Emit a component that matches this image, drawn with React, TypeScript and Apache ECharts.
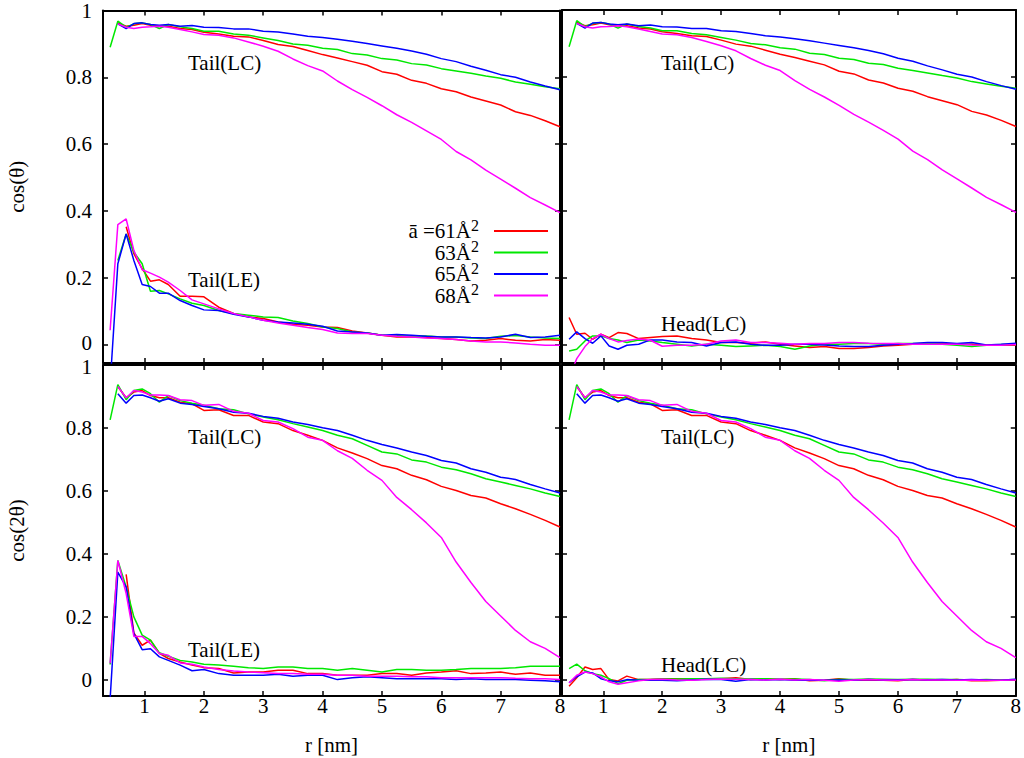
import React, { useEffect, useRef } from "react";
import * as echarts from "echarts";

// r [nm] sample positions
const R = [0.42, 0.55, 0.69, 0.82, 0.96, 1.1, 1.25, 1.4, 1.6, 1.8, 2.0, 2.25, 2.5, 2.75, 3.0, 3.25, 3.5, 3.75, 4.0, 4.25, 4.5, 4.75, 5.0, 5.25, 5.5, 5.75, 6.0, 6.25, 6.5, 6.75, 7.0, 7.25, 7.5, 7.75, 8.0];

const SERIES_NAMES = ["61", "63", "65", "68"];
const LEGEND_LABELS: Record<string, string> = { "61": "ā =61Å", "63": "63Å", "65": "65Å", "68": "68Å" };
const COLORS = ["#ff0000", "#00e800", "#0000ff", "#ff00ff"];
const X_TICKS = [1, 2, 3, 4, 5, 6, 7, 8];
const Y_TICKS = [0, 0.2, 0.4, 0.6, 0.8, 1];

// cos(theta), Tail(LC)
const LC1_61 = [null, 0.963, 0.953, 0.956, 0.961, 0.956, 0.953, 0.953, 0.946, 0.943, 0.935, 0.930, 0.923, 0.921, 0.910, 0.898, 0.892, 0.880, 0.868, 0.858, 0.847, 0.836, 0.817, 0.809, 0.791, 0.782, 0.766, 0.757, 0.741, 0.729, 0.717, 0.697, 0.686, 0.670, 0.652];
const LC1_63 = [0.89, 0.968, 0.950, 0.960, 0.963, 0.958, 0.946, 0.958, 0.951, 0.946, 0.938, 0.938, 0.930, 0.926, 0.918, 0.910, 0.900, 0.896, 0.887, 0.883, 0.871, 0.867, 0.856, 0.852, 0.841, 0.837, 0.826, 0.819, 0.812, 0.804, 0.797, 0.786, 0.779, 0.772, 0.766];
const LC1_65 = [null, 0.960, 0.946, 0.961, 0.963, 0.958, 0.956, 0.958, 0.953, 0.955, 0.950, 0.949, 0.945, 0.945, 0.938, 0.936, 0.930, 0.923, 0.919, 0.914, 0.908, 0.901, 0.894, 0.887, 0.879, 0.869, 0.856, 0.847, 0.833, 0.821, 0.808, 0.800, 0.786, 0.774, 0.763];
const LC1_68 = [null, 0.960, 0.950, 0.946, 0.950, 0.951, 0.953, 0.950, 0.943, 0.936, 0.928, 0.926, 0.918, 0.906, 0.893, 0.878, 0.855, 0.835, 0.819, 0.789, 0.763, 0.740, 0.715, 0.688, 0.665, 0.640, 0.614, 0.578, 0.553, 0.522, 0.495, 0.468, 0.440, 0.418, 0.395];

// cos(theta), Tail(LE)
const LE1_61 = [null, null, 0.353, 0.272, 0.227, 0.190, 0.194, 0.180, 0.145, 0.145, 0.143, 0.112, 0.093, 0.083, 0.078, 0.068, 0.061, 0.058, 0.053, 0.051, 0.041, 0.035, 0.028, 0.023, 0.023, 0.021, 0.018, 0.015, 0.011, 0.013, 0.018, 0.013, 0.011, 0.015, 0.013];
const LE1_63 = [null, 0.252, 0.331, 0.277, 0.242, 0.160, 0.162, 0.152, 0.137, 0.124, 0.117, 0.102, 0.093, 0.088, 0.083, 0.081, 0.071, 0.063, 0.053, 0.048, 0.038, 0.035, 0.028, 0.027, 0.025, 0.026, 0.023, 0.023, 0.020, 0.018, 0.025, 0.027, 0.023, 0.020, 0.018];
const LE1_65 = [-0.12, 0.242, 0.331, 0.252, 0.180, 0.174, 0.154, 0.154, 0.132, 0.117, 0.104, 0.102, 0.091, 0.083, 0.073, 0.068, 0.065, 0.061, 0.055, 0.041, 0.038, 0.035, 0.028, 0.030, 0.028, 0.025, 0.023, 0.023, 0.021, 0.020, 0.023, 0.031, 0.021, 0.023, 0.028];
const LE1_68 = [0.043, 0.359, 0.376, 0.282, 0.224, 0.214, 0.202, 0.187, 0.162, 0.134, 0.122, 0.107, 0.093, 0.083, 0.073, 0.065, 0.058, 0.051, 0.045, 0.035, 0.033, 0.033, 0.028, 0.025, 0.023, 0.020, 0.018, 0.015, 0.011, 0.008, 0.008, 0.005, 0.001, -0.002, -0.002];

// cos(theta), Head(LC)
const HD1_61 = [0.081, 0.031, 0.034, 0.016, 0.031, 0.021, 0.036, 0.033, 0.018, 0.021, 0.024, 0.026, 0.018, 0.014, 0.006, 0.006, 0.004, 0.008, 0.001, -0.004, -0.009, -0.006, -0.012, -0.012, -0.009, -0.004, -0.002, 0.001, 0.001, 0.003, 0.001, 0.001, -0.001, -0.002, -0.002];
const HD1_63 = [-0.019, -0.014, 0.011, 0.026, 0.026, 0.018, 0.014, 0.006, 0.014, 0.011, 0.006, 0.001, -0.004, 0.001, -0.002, -0.006, -0.004, -0.002, -0.006, -0.014, -0.004, 0.001, 0.001, 0.003, 0.003, 0.001, 0.003, 0.003, 0.003, 0.001, -0.002, -0.006, -0.002, 0.000, 0.000];
const HD1_65 = [0.016, 0.038, 0.018, 0.004, 0.026, -0.004, -0.014, -0.002, 0.001, 0.014, 0.014, 0.008, 0.006, -0.004, 0.006, 0.008, 0.001, -0.002, -0.002, 0.001, 0.001, -0.001, -0.004, -0.006, -0.006, -0.002, 0.001, 0.003, 0.006, 0.006, 0.003, 0.006, -0.001, 0.001, 0.004];
const HD1_68 = [-0.1, -0.042, -0.006, 0.018, 0.031, 0.018, 0.008, 0.012, 0.017, 0.013, -0.005, -0.002, -0.002, 0.001, 0.011, 0.014, 0.006, 0.006, 0.004, 0.001, 0.003, 0.003, 0.006, 0.006, 0.004, 0.003, 0.003, 0.001, 0.001, 0.001, 0.001, -0.001, -0.002, -0.002, 0.000];

// cos(2theta), Tail(LC)
const LC2_61 = [null, 0.932, 0.896, 0.914, 0.919, 0.903, 0.896, 0.896, 0.882, 0.877, 0.856, 0.858, 0.840, 0.840, 0.819, 0.814, 0.792, 0.777, 0.761, 0.737, 0.721, 0.703, 0.681, 0.671, 0.650, 0.636, 0.615, 0.602, 0.586, 0.578, 0.560, 0.544, 0.526, 0.507, 0.486];
const LC2_63 = [0.826, 0.938, 0.890, 0.919, 0.924, 0.909, 0.882, 0.903, 0.887, 0.879, 0.872, 0.861, 0.858, 0.845, 0.835, 0.826, 0.814, 0.803, 0.792, 0.777, 0.766, 0.745, 0.724, 0.718, 0.699, 0.692, 0.676, 0.668, 0.655, 0.639, 0.629, 0.618, 0.607, 0.594, 0.583];
const LC2_65 = [null, 0.909, 0.879, 0.903, 0.905, 0.896, 0.885, 0.893, 0.879, 0.875, 0.868, 0.861, 0.850, 0.847, 0.837, 0.831, 0.819, 0.811, 0.801, 0.792, 0.777, 0.761, 0.748, 0.737, 0.724, 0.713, 0.697, 0.689, 0.671, 0.660, 0.644, 0.637, 0.621, 0.607, 0.594];
const LC2_68 = [null, 0.932, 0.896, 0.919, 0.914, 0.905, 0.905, 0.903, 0.890, 0.887, 0.872, 0.875, 0.853, 0.847, 0.824, 0.819, 0.798, 0.771, 0.761, 0.728, 0.704, 0.666, 0.634, 0.580, 0.541, 0.499, 0.453, 0.375, 0.310, 0.250, 0.204, 0.158, 0.122, 0.101, 0.072];

// cos(2theta), Tail(LE)
const LE2_61 = [null, null, 0.336, 0.150, 0.111, 0.127, 0.085, 0.069, 0.058, 0.048, 0.040, 0.037, 0.023, 0.026, 0.026, 0.032, 0.032, 0.021, 0.021, 0.016, 0.016, 0.016, 0.021, 0.021, 0.016, 0.023, 0.026, 0.030, 0.021, 0.023, 0.026, 0.019, 0.023, 0.016, 0.016];
const LE2_63 = [0.05, 0.380, 0.296, 0.201, 0.143, 0.127, 0.087, 0.076, 0.063, 0.058, 0.051, 0.048, 0.044, 0.040, 0.037, 0.042, 0.042, 0.037, 0.037, 0.032, 0.037, 0.032, 0.026, 0.034, 0.034, 0.032, 0.032, 0.034, 0.037, 0.037, 0.037, 0.040, 0.044, 0.044, 0.044];
const LE2_65 = [-0.06, 0.343, 0.296, 0.148, 0.097, 0.100, 0.074, 0.063, 0.048, 0.030, 0.034, 0.021, 0.016, 0.016, 0.016, 0.019, 0.013, 0.016, 0.016, 0.002, 0.008, 0.011, 0.008, 0.005, 0.005, 0.005, 0.005, 0.002, 0.005, 0.002, 0.002, 0.002, 0.000, -0.002, -0.005];
const LE2_68 = [0.054, 0.380, 0.275, 0.139, 0.139, 0.116, 0.085, 0.079, 0.055, 0.051, 0.042, 0.034, 0.029, 0.026, 0.024, 0.021, 0.021, 0.019, 0.019, 0.016, 0.016, 0.013, 0.013, 0.013, 0.011, 0.011, 0.008, 0.008, 0.008, 0.008, 0.008, 0.006, 0.005, 0.005, 0.002];

// cos(2theta), Head(LC)
const HD2_61 = [-0.019, 0.008, 0.042, 0.034, 0.037, 0.002, -0.002, 0.013, 0.002, 0.002, 0.005, 0.005, 0.005, 0.005, 0.005, 0.008, 0.002, 0.005, 0.002, 0.005, -0.002, 0.000, 0.005, 0.000, 0.000, 0.000, -0.002, 0.002, 0.000, 0.000, 0.002, -0.002, -0.002, 0.000, 0.000];
const HD2_63 = [0.037, 0.051, 0.030, 0.021, 0.016, 0.005, -0.011, 0.000, 0.002, 0.002, 0.004, 0.004, 0.005, 0.005, 0.006, 0.005, 0.004, 0.005, 0.003, 0.004, 0.002, -0.002, 0.003, 0.002, 0.004, 0.003, 0.002, 0.003, 0.003, 0.002, 0.002, 0.001, 0.002, 0.001, 0.002];
const HD2_65 = [-0.008, 0.011, 0.026, 0.023, 0.005, -0.002, -0.005, 0.002, 0.000, 0.001, 0.000, -0.002, 0.001, 0.003, 0.002, -0.003, 0.002, 0.001, 0.002, 0.000, 0.001, 0.000, 0.001, 0.000, 0.002, 0.001, 0.001, 0.002, 0.001, 0.002, 0.001, 0.002, 0.001, 0.000, 0.003];
const HD2_68 = [-0.008, 0.016, 0.026, 0.021, 0.011, -0.005, -0.013, -0.008, -0.002, 0.002, 0.003, 0.001, 0.000, 0.002, 0.004, 0.003, 0.002, 0.001, 0.003, 0.001, 0.002, 0.000, -0.003, 0.001, 0.002, 0.001, 0.000, 0.002, 0.001, 0.001, 0.000, 0.001, 0.000, 0.000, 0.001];

const TAIL_LC_COS = [LC1_61, LC1_63, LC1_65, LC1_68];
const TAIL_LE_COS = [LE1_61, LE1_63, LE1_65, LE1_68];
const HEAD_LC_COS = [HD1_61, HD1_63, HD1_65, HD1_68];
const TAIL_LC_COS2 = [LC2_61, LC2_63, LC2_65, LC2_68];
const TAIL_LE_COS2 = [LE2_61, LE2_63, LE2_65, LE2_68];
const HEAD_LC_COS2 = [HD2_61, HD2_63, HD2_65, HD2_68];

const PANEL_GROUPS = [
  [TAIL_LC_COS, TAIL_LE_COS],
  [TAIL_LC_COS, HEAD_LC_COS],
  [TAIL_LC_COS2, TAIL_LE_COS2],
  [TAIL_LC_COS2, HEAD_LC_COS2],
];

const FONT = "Liberation Serif";

function pairs(ys: (number | null)[]) {
  const out: [number, number][] = [];
  ys.forEach((y, i) => {
    if (y !== null) out.push([R[i], y]);
  });
  return out;
}

export default function App() {
  const ref = useRef<HTMLDivElement>(null);

  useEffect(() => {
    if (!ref.current) return;
    const chart = echarts.init(ref.current, undefined, { renderer: "svg" });

    const grids = [
      { left: 103, top: 10, width: 457, height: 353 },
      { left: 562, top: 10, width: 454, height: 353 },
      { left: 103, top: 365, width: 457, height: 331 },
      { left: 562, top: 365, width: 454, height: 331 },
    ];
    const yMins = [-0.055, -0.055, -0.05, -0.05];
    const yNames = ["cos(θ)", "", "cos(2θ)", ""];

    const axisLine = { show: true, onZero: false, lineStyle: { color: "#000", width: 2 } };
    const tickStyle = { color: "#000", width: 1.5 };
    const labelStyle = { fontFamily: FONT, fontSize: 21, color: "#000" };

    const xAxis: any[] = [];
    const yAxis: any[] = [];
    const series: any[] = [];

    grids.forEach((g, i) => {
      const isBottom = i >= 2;
      const isLeft = i % 2 === 0;
      ["bottom", "top"].forEach((pos) => {
        xAxis.push({
          type: "value",
          gridIndex: i,
          position: pos,
          min: 0.3,
          max: 8,
          axisLine,
          splitLine: { show: false },
          axisTick: { show: true, inside: true, length: 5, lineStyle: tickStyle, customValues: X_TICKS },
          axisLabel: {
            show: pos === "bottom" && isBottom,
            customValues: X_TICKS,
            margin: -1,
            ...labelStyle,
          },
          name: pos === "bottom" && isBottom ? "r [nm]" : "",
          nameLocation: "middle",
          nameGap: 38,
          nameTextStyle: labelStyle,
        });
      });
      ["left", "right"].forEach((pos) => {
        // the two labels that meet at the panel boundary are nudged apart slightly
        const edgeValue = isBottom ? 1 : 0;
        const edgeStyle = isBottom ? "lo" : "hi";
        yAxis.push({
          type: "value",
          gridIndex: i,
          position: pos,
          min: yMins[i],
          max: 1,
          axisLine,
          splitLine: { show: false },
          axisTick: { show: true, inside: true, length: 5, lineStyle: tickStyle, customValues: Y_TICKS },
          axisLabel: {
            show: pos === "left" && isLeft,
            customValues: Y_TICKS,
            margin: 11,
            ...labelStyle,
            formatter: (v: number) => (v === edgeValue ? `{${edgeStyle}|${v}}` : `${v}`),
            rich: {
              hi: { ...labelStyle, padding: [0, 0, 4, 0] },
              lo: { ...labelStyle, padding: [4, 0, 0, 0] },
            },
          },
          name: pos === "left" ? yNames[i] : "",
          nameLocation: "middle",
          nameGap: 76,
          nameRotate: 90,
          nameTextStyle: labelStyle,
        });
      });
      PANEL_GROUPS[i].forEach((group) => {
        group.forEach((ys, k) => {
          series.push({
            type: "line",
            name: SERIES_NAMES[k],
            xAxisIndex: 2 * i,
            yAxisIndex: 2 * i,
            data: pairs(ys),
            symbol: "none",
            showSymbol: false,
            color: COLORS[k],
            lineStyle: { width: 1.5, color: COLORS[k] },
            clip: true,
            silent: true,
          });
        });
      });
    });

    const textEl = (text: string, x: number, y: number) => ({
      type: "text",
      x,
      y,
      style: { text, fontFamily: FONT, fontSize: 21, fill: "#000", align: "left", verticalAlign: "middle" },
      silent: true,
    });

    chart.setOption({
      animation: false,
      backgroundColor: "#fff",
      textStyle: { fontFamily: FONT, color: "#000" },
      grid: grids.map((g) => ({ ...g, containLabel: false })),
      xAxis,
      yAxis,
      series,
      legend: {
        data: SERIES_NAMES,
        orient: "vertical",
        right: 476,
        top: 217,
        align: "right",
        padding: 0,
        icon: "rect",
        itemWidth: 54,
        itemHeight: 2,
        itemGap: -3,
        selectedMode: false,
        formatter: (n: string) => `{b|${LEGEND_LABELS[n]}}{s|2}`,
        textStyle: {
          fontFamily: FONT,
          rich: {
            b: { fontFamily: FONT, fontSize: 21, color: "#000", lineHeight: 20 },
            s: { fontFamily: FONT, fontSize: 16, color: "#000", lineHeight: 4, verticalAlign: "top", padding: [-4, 10, 0, 0] },
          },
        },
      },
      graphic: [
        textEl("Tail(LC)", 188, 63),
        textEl("Tail(LE)", 188, 280),
        textEl("Tail(LC)", 661, 63),
        textEl("Head(LC)", 661, 324),
        textEl("Tail(LC)", 188, 437),
        textEl("Tail(LE)", 188, 650),
        textEl("Tail(LC)", 661, 437),
        textEl("Head(LC)", 661, 665),
      ],
    });

    return () => chart.dispose();
  }, []);

  return (
    <div
      ref={ref}
      style={{ position: "absolute", left: 0, top: 0, width: 1024, height: 758, background: "#fff" }}
    />
  );
}
